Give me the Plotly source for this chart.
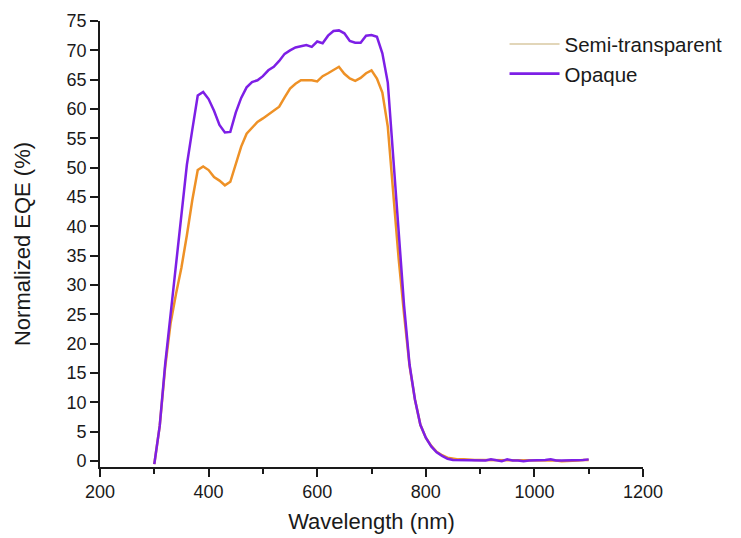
import plotly.graph_objects as go

# Wavelength grid (nm)
wavelength = list(range(300, 1101, 10))

# Opaque device EQE (%)
opaque = [
    -0.5, 6.0, 16.5, 25.0, 33.3, 41.5, 50.5, 56.5, 62.3, 62.9,   # 300-390
    61.7, 59.7, 57.3, 56.0, 56.1, 59.4, 61.9, 63.7, 64.6, 64.9,  # 400-490
    65.6, 66.6, 67.2, 68.2, 69.4, 70.0, 70.5, 70.7, 70.9, 70.6,  # 500-590
    71.5, 71.2, 72.5, 73.3, 73.4, 72.9, 71.6, 71.3, 71.3, 72.5,  # 600-690
    72.6, 72.3, 69.5, 64.5, 52.0, 38.0, 26.5, 16.5, 10.5, 6.2,   # 700-790
    4.0, 2.5, 1.5, 0.9, 0.4, 0.2,                                # 800-850
    0.2, 0.2, 0.1, 0.1, 0.2, 0.1, 0.3, 0.1, 0.0, 0.3,            # 860-950
    0.1, 0.1, 0.0, 0.1, 0.1, 0.1, 0.2, 0.3, 0.1, 0.1,            # 960-1050
    0.1, 0.1, 0.2, 0.2, 0.3,                                     # 1060-1100
]

# Semi-transparent device EQE (%)
semi = [
    -0.5, 6.0, 16.0, 23.5, 28.5, 33.0, 38.5, 44.5, 49.6, 50.2,   # 300-390
    49.6, 48.4, 47.8, 47.0, 47.6, 50.5, 53.6, 55.8, 56.8, 57.8,  # 400-490
    58.4, 59.1, 59.7, 60.4, 62.0, 63.5, 64.3, 64.9, 64.9, 64.9,  # 500-590
    64.7, 65.6, 66.1, 66.7, 67.2, 66.0, 65.2, 64.8, 65.3, 66.1,  # 600-690
    66.6, 65.2, 62.8, 57.0, 45.5, 34.5, 25.0, 16.3, 10.5, 6.2,   # 700-790
    4.0, 2.6, 1.6, 1.0, 0.6, 0.4,                                # 800-850
    0.3, 0.3, 0.2, 0.2, 0.2, 0.2, 0.2, 0.1, 0.1, 0.2,            # 860-950
    0.1, 0.1, 0.1, 0.1, 0.1, 0.1, 0.1, 0.2, 0.1, 0.0,            # 960-1050
    0.0, 0.1, 0.1, 0.2, 0.2,                                     # 1060-1100
]

series_names = ["Semi-transparent", "Opaque"]
x_ticks = [200, 400, 600, 800, 1000, 1200]
y_ticks = list(range(0, 76, 5))

ORANGE = "#ee9126"
PURPLE = "#7d1fe6"
LEGEND_TAN = "#d9c8a2"
FONT = "Liberation Sans, Arial, sans-serif"
INK = "#1a1a1a"

fig = go.Figure()
fig.add_trace(go.Scatter(x=wavelength, y=semi, mode="lines", name=series_names[0],
                         line=dict(color=ORANGE, width=2.5), showlegend=False))
fig.add_trace(go.Scatter(x=wavelength, y=opaque, mode="lines", name=series_names[1],
                         line=dict(color=PURPLE, width=2.5), showlegend=False))
# legend entries (styled as in the original figure)
fig.add_trace(go.Scatter(x=[None], y=[None], mode="lines", name=series_names[0],
                         line=dict(color=LEGEND_TAN, width=1.6)))
fig.add_trace(go.Scatter(x=[None], y=[None], mode="lines", name=series_names[1],
                         line=dict(color=PURPLE, width=2.6)))

axis_common = dict(
    showline=True, linecolor=INK, linewidth=1.6,
    ticks="outside", tickcolor=INK, tickwidth=1.6,
    showgrid=False, zeroline=False, mirror=False, automargin=False,
    tickfont=dict(family=FONT, size=18, color=INK),
)

fig.update_xaxes(
    range=[200, 1200], tickvals=x_ticks, ticklen=8,
    minor=dict(dtick=100, ticks="outside", ticklen=5, tickcolor=INK, tickwidth=1.6),
    title=dict(text="Wavelength (nm)", font=dict(family=FONT, size=22, color=INK), standoff=12),
    **axis_common,
)
fig.update_yaxes(
    range=[-1, 75], tickvals=y_ticks, ticklen=8,
    title=dict(text="Normalized EQE (%)", font=dict(family=FONT, size=22, color=INK), standoff=30),
    **axis_common,
)

fig.update_layout(
    width=741, height=538,
    margin=dict(l=100, r=98, t=21, b=71),
    paper_bgcolor="white", plot_bgcolor="white",
    font=dict(family=FONT, color=INK),
    legend=dict(x=0.745, y=0.993, xanchor="left", yanchor="top",
                font=dict(family=FONT, size=20.5, color=INK),
                bgcolor="rgba(0,0,0,0)", itemwidth=50, tracegroupgap=0),
)

fig.write_html("out.html")
